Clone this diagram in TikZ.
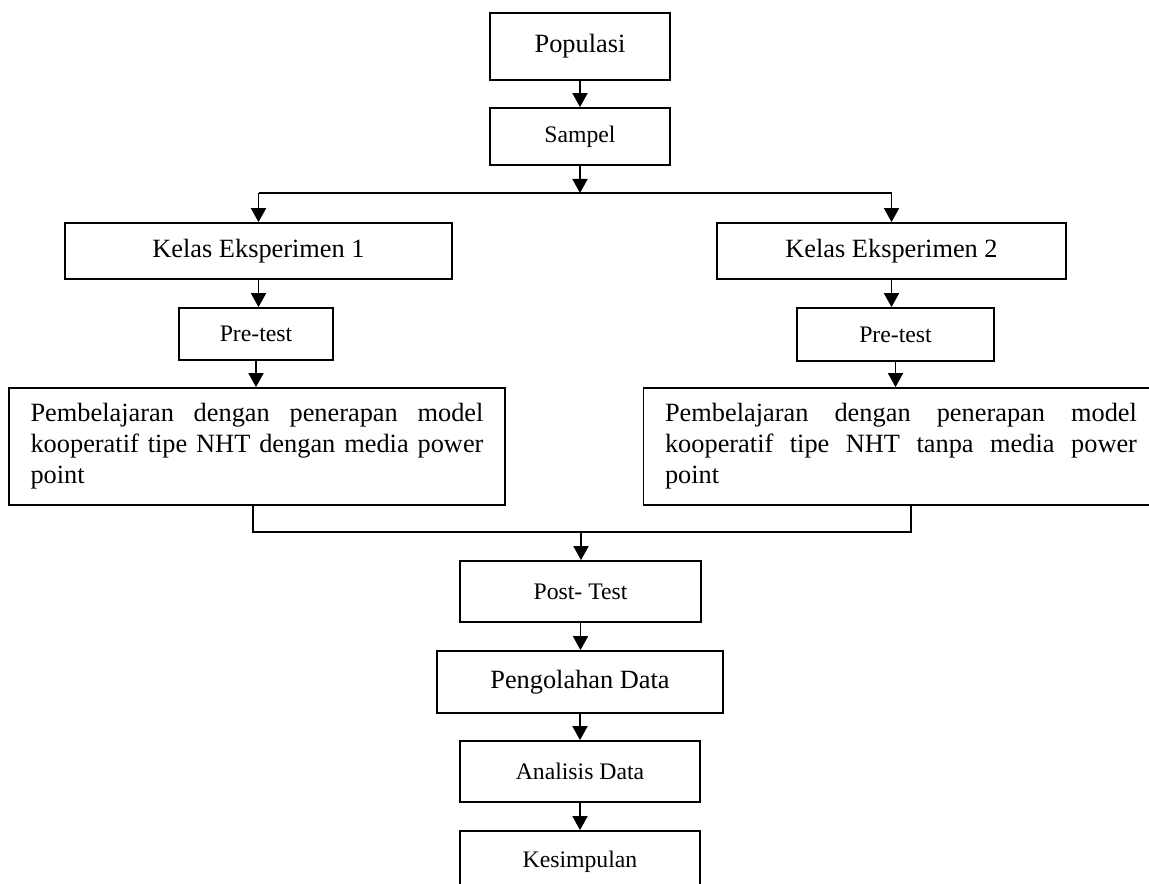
\documentclass[tikz,border=0pt]{standalone}
\usepackage{fontspec}
\setmainfont{Liberation Serif}
\usepackage{tikz}
\usetikzlibrary{arrows.meta}
\hyphenpenalty=10000
\tolerance=9999
\tikzset{
  stepbox/.style={
    rectangle, draw=black, line width=1pt,
    minimum width=#1, minimum height=1.22cm,
    font=\fontsize{15}{18}\selectfont, align=center,
    inner sep=0pt
  },
  stepbox/.default=4.8cm,
  smallbox/.style={
    rectangle, draw=black, line width=1pt,
    minimum width=#1, minimum height=1.22cm,
    font=\fontsize{13.5}{16}\selectfont, align=center,
    inner sep=0pt
  },
  smallbox/.default=4.8cm,
  textbox/.style={
    rectangle, draw=black, line width=1pt,
    text width=#1, minimum height=2.34cm,
    font=\fontsize{15}{17.6}\selectfont, align=justify,
    inner xsep=0.43cm, inner ysep=0pt
  },
  textbox/.default=9.06cm,
  flowarrow/.style={
    -{Triangle[length=0.28cm, width=0.3cm]}, line width=1pt
  },
  joinline/.style={line width=1pt},
}

\begin{document}
\begin{tikzpicture}[x=0.02cm, y=-0.02cm]
  \useasboundingbox (0,0) rectangle (1149,884);

  % Population and sample
  \node[stepbox=3.6cm, minimum height=1.34cm] (pop) at (580,46.5) {Populasi};
  \node[smallbox=3.6cm, minimum height=1.14cm] (samp) at (580,136.5) {Sampel};

  % Two experiment classes
  \node[stepbox=7.74cm, minimum height=1.12cm] (kls1) at (258.5,251) {Kelas Eksperimen 1};
  \node[stepbox=6.98cm, minimum height=1.12cm] (kls2) at (891.5,251) {Kelas Eksperimen 2};
  \node[smallbox=3.08cm, minimum height=1.04cm] (pre1) at (256,334) {Pre-test};
  \node[smallbox=3.94cm, minimum height=1.06cm] (pre2) at (895.5,334.5) {Pre-test};
  \node[textbox=9.06cm] (pemb1) at (257,446.5)
    {Pembelajaran dengan penerapan model kooperatif tipe NHT dengan media power point};
  \node[textbox=9.44cm] (pemb2) at (901,446.5)
    {Pembelajaran dengan penerapan model kooperatif tipe NHT tanpa media power point};

  % After treatment
  \node[smallbox=4.82cm] (post) at (580.5,591.5) {Post- Test};
  \node[stepbox=5.72cm, minimum height=1.24cm] (olah) at (580,682) {Pengolahan Data};
  \node[smallbox=4.8cm] (anls) at (580,771.5) {Analisis Data};
  \node[smallbox=4.8cm] (simp) at (580,861.5) {Kesimpulan};

  % Split after the sample
  \coordinate (split) at (580,193);
  \draw[flowarrow] (pop) -- (samp);
  \draw[flowarrow] (samp) -- (split);
  \draw[joinline] (kls1.north |- split) -- (kls2.north |- split);
  \foreach \k in {kls1,kls2} {
    \draw[flowarrow] (\k.north |- split) -- (\k);
  }

  % Straight arrows down each column
  \foreach \a/\b in {kls1/pre1, pre1/pemb1, kls2/pre2, pre2/pemb2,
                     post/olah, olah/anls, anls/simp} {
    \draw[flowarrow] (\a) -- (\a |- \b.north);
  }

  % Merge both classes into the post-test
  \coordinate (merge) at (581,532);
  \draw[joinline] ([xshift=-0.08cm]pemb1.south) |- (merge)
    -| ([xshift=0.2cm]pemb2.south);
  \draw[flowarrow] (merge) -- (merge |- post.north);
\end{tikzpicture}
\end{document}
